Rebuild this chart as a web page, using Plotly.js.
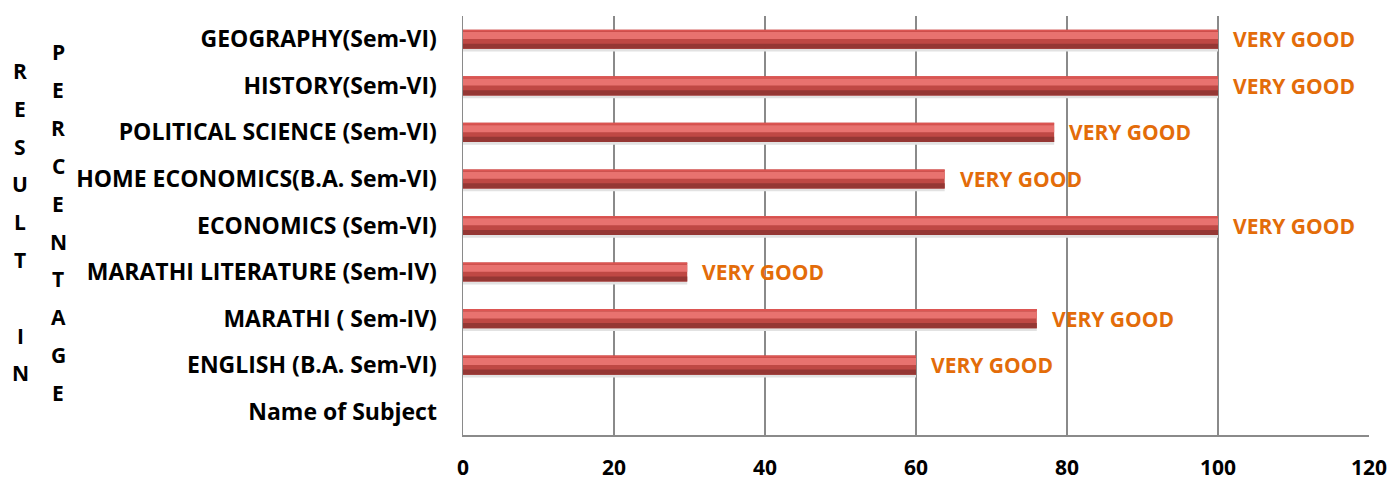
<!DOCTYPE html>
<html>
<head>
<meta charset="utf-8">
<script src="https://cdn.plot.ly/plotly-3.0.1.min.js"></script>
<style>html,body{margin:0;padding:0;background:#fff;}#chart{width:1392px;height:482px;}</style>
</head>
<body>
<div id="chart"></div>
<script>
const subjects = [
  "Name of Subject",
  "ENGLISH (B.A. Sem-VI)",
  "MARATHI ( Sem-IV)",
  "MARATHI LITERATURE (Sem-IV)",
  "ECONOMICS (Sem-VI)",
  "HOME ECONOMICS(B.A. Sem-VI)",
  "POLITICAL SCIENCE (Sem-VI)",
  "HISTORY(Sem-VI)",
  "GEOGRAPHY(Sem-VI)"
];
const percentages = [null, 60, 76, 29.7, 100, 63.8, 78.3, 100, 100];
const ratings = ["", "VERY GOOD", "VERY GOOD", "VERY GOOD", "VERY GOOD", "VERY GOOD", "VERY GOOD", "VERY GOOD", "VERY GOOD"];
const xTicks = [0, 20, 40, 60, 80, 100, 120];
const titleLeft = ["R", "E", "S", "U", "L", "T", "", "I", "N"];
const titleRight = ["P", "E", "R", "C", "E", "N", "T", "A", "G", "E"];

const BW = 0.41;
function layer(width, offset, color) {
  return {
    type: 'bar', orientation: 'h', y: subjects, x: percentages,
    width: width, offset: offset,
    marker: {color: color, line: {width: 0}},
    hoverinfo: 'skip', showlegend: false
  };
}
const shadow = layer(0.07, -BW/2 - 0.06, '#e2e2e2');
const base = layer(BW, -BW/2, '#bf4844');
const dark = layer(0.11, -BW/2, '#953734');
const light = layer(0.15, BW/2 - 0.20, '#e8726f');
const topEdge = layer(0.04, BW/2 - 0.04, '#dc5552');

const PLOT_TOP = 16, PLOT_H = 419;
const toPaper = py => 1 - (py - PLOT_TOP) / PLOT_H;

const annotations = [];
subjects.forEach((s, i) => {
  if (percentages[i] !== null && ratings[i]) {
    annotations.push({
      x: percentages[i], y: s, xref: 'x', yref: 'y',
      text: ratings[i], showarrow: false, xanchor: 'left', xshift: 13,
      font: {family: 'Open Sans, sans-serif', size: 21, color: '#e36c09', weight: 'bold'}
    });
  }
});
const letterFont = {family: 'Open Sans, sans-serif', size: 21, color: '#000', weight: 'bold'};
titleLeft.forEach((ch, i) => {
  if (!ch) return;
  annotations.push({
    xref: 'paper', yref: 'paper', x: (20 - 463) / 906, y: toPaper(71 + i * 37.8),
    xanchor: 'center', yanchor: 'middle', text: ch, showarrow: false, font: letterFont
  });
});
titleRight.forEach((ch, i) => {
  annotations.push({
    xref: 'paper', yref: 'paper', x: (58 - 463) / 906, y: toPaper(52 + i * 37.9),
    xanchor: 'center', yanchor: 'middle', text: ch, showarrow: false, font: letterFont
  });
});

const layout = {
  width: 1392, height: 482,
  margin: {l: 463, r: 23, t: 16, b: 47},
  paper_bgcolor: '#fff', plot_bgcolor: '#fff',
  barmode: 'overlay',
  xaxis: {
    range: [0, 120], tickvals: xTicks, ticktext: xTicks.map(String),
    showgrid: true, gridcolor: '#8a8a8a', gridwidth: 1.5,
    zeroline: false, showline: true, linecolor: '#8a8a8a', linewidth: 1.5,
    ticks: 'outside', ticklen: 13, tickcolor: 'rgba(0,0,0,0)',
    tickfont: {family: 'Open Sans, sans-serif', size: 21, color: '#000', weight: 'bold'},
    fixedrange: true
  },
  yaxis: {
    type: 'category', categoryorder: 'array', categoryarray: subjects,
    showgrid: false, zeroline: false, showline: true, linecolor: '#8a8a8a', linewidth: 1.5,
    ticks: 'outside', ticklen: 20, tickcolor: 'rgba(0,0,0,0)',
    tickfont: {family: 'Open Sans, sans-serif', size: 23, color: '#000', weight: 'bold'},
    fixedrange: true
  },
  annotations: annotations
};

Plotly.newPlot('chart', [shadow, base, dark, light, topEdge], layout, {staticPlot: true, displayModeBar: false});
</script>
</body>
</html>
